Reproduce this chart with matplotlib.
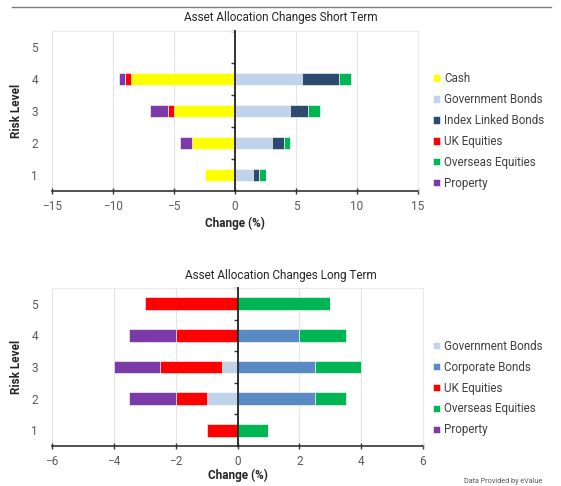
import numpy as np
import matplotlib.pyplot as plt
from matplotlib.lines import Line2D

plt.rcParams['font.family'] = ['Roboto', 'DejaVu Sans']

levels = [1, 2, 3, 4, 5]

# short term changes (%) per risk level 1..5
short_names = ['Cash', 'Government Bonds', 'Index Linked Bonds', 'UK Equities',
               'Overseas Equities', 'Property']
short_cash = [-2.5, -3.5, -5.0, -8.5, 0]
short_gov = [1.5, 3.0, 4.5, 5.5, 0]
short_ilb = [0.5, 1.0, 1.5, 3.0, 0]
short_uk = [0, 0, -0.5, -0.5, 0]
short_overseas = [0.5, 0.5, 1.0, 1.0, 0]
short_property = [0, -1.0, -1.5, -0.5, 0]

# long term changes (%) per risk level 1..5
long_names = ['Government Bonds', 'Corporate Bonds', 'UK Equities',
              'Overseas Equities', 'Property']
long_gov = [0, -1.0, -0.5, 0, 0]
long_corp = [0, 2.5, 2.5, 2.0, 0]
long_uk = [-1.0, -1.0, -2.0, -2.0, -3.0]
long_overseas = [1.0, 1.0, 1.5, 1.5, 3.0]
long_property = [0, -1.5, -1.5, -1.5, 0]

colours = {
    'Cash': '#FFFF00',
    'Government Bonds': '#C0D3EA',
    'Index Linked Bonds': '#2C4A6E',
    'Corporate Bonds': '#5A8AC6',
    'UK Equities': '#FF0000',
    'Overseas Equities': '#00B553',
    'Property': '#7B3AA8',
}

TEXT = '#404040'


def stacked(ax, names, series, xlim, xticks, title, legend_y, xlabel_pad):
    pos = np.zeros(len(levels))
    neg = np.zeros(len(levels))
    for name, vals in zip(names, series):
        vals = np.asarray(vals, dtype=float)
        left = np.where(vals >= 0, pos, neg)
        ax.barh(levels, vals, left=left, height=0.4, color=colours[name],
                edgecolor='white', linewidth=0.4, label=name, zorder=2)
        pos += np.clip(vals, 0, None)
        neg += np.clip(vals, None, 0)

    ax.set_xlim(*xlim)
    ax.set_ylim(0.5, 5.5)
    ax.set_xticks(xticks)
    ax.set_axisbelow(True)
    ax.grid(axis='x', color='#E3E3E3', linewidth=0.8)

    for s in ['top', 'right']:
        ax.spines[s].set_color('#EBEBEB')
        ax.spines[s].set_linewidth(0.8)
    ax.spines['bottom'].set_color('#333333')
    ax.spines['bottom'].set_linewidth(1.2)
    ax.spines['left'].set_position(('data', 0))
    ax.spines['left'].set_color('#222222')
    ax.spines['left'].set_linewidth(1.3)
    ax.spines['left'].set_zorder(3)

    ax.tick_params(axis='x', direction='inout', length=5, width=1,
                   color='#333333', labelsize=8.5, labelcolor='#595959', pad=4)
    ax.set_yticks([])
    ax.set_yticks([1.5, 2.5, 3.5, 4.5, 5.5], minor=True)
    ax.tick_params(axis='y', which='minor', direction='out', length=3,
                   width=1, color='#333333', labelleft=False)

    # risk level labels sit at the left edge of the plot area
    sec = ax.secondary_yaxis('left')
    sec.set_yticks(levels)
    sec.tick_params(length=0, labelsize=8.5, labelcolor='#595959', pad=10)
    sec.spines['left'].set_visible(False)
    sec.set_ylabel('Risk Level', fontsize=8.5, fontweight='bold',
                   color='#262626', labelpad=6)

    ax.set_xlabel('Change (%)', fontsize=8.5, fontweight='bold',
                  color='#262626', labelpad=xlabel_pad)

    fig.text(281 / 561, ax.get_position().y1 + 13 / 486, title,
             ha='center', va='center', fontsize=8.5, color='#262626')

    ax.legend(loc='center left', bbox_to_anchor=(433 / 561, legend_y),
              bbox_transform=fig.transFigure, frameon=False, fontsize=8.4,
              handlelength=0.6, handleheight=0.6, handletextpad=0.35,
              labelspacing=0.68, borderpad=0, borderaxespad=0,
              labelcolor=TEXT)


fig = plt.figure(figsize=(5.61, 4.86), dpi=100)
ax1 = fig.add_axes([52 / 561, 1 - 191 / 486, 366 / 561, 160 / 486])
ax2 = fig.add_axes([52 / 561, 1 - 446 / 486, 371 / 561, 158 / 486])

stacked(ax1, short_names,
        [short_cash, short_gov, short_ilb, short_uk, short_overseas, short_property],
        (-15, 15), [-15, -10, -5, 0, 5, 10, 15],
        'Asset Allocation Changes Short Term', 1 - 131 / 486, 3)
stacked(ax2, long_names,
        [long_gov, long_corp, long_uk, long_overseas, long_property],
        (-6, 6), [-6, -4, -2, 0, 2, 4, 6],
        'Asset Allocation Changes Long Term', 1 - 388 / 486, 0.5)

fig.add_artist(Line2D([12 / 561, 551 / 561], [1 - 7 / 486, 1 - 7 / 486],
                      color='#7F7F7F', linewidth=1))
fig.text(542 / 561, 1 - 481 / 486, 'Data Provided by eValue', ha='right',
         va='center', fontsize=5.2, color='#595959')

fig.savefig('out.png', dpi=100)
